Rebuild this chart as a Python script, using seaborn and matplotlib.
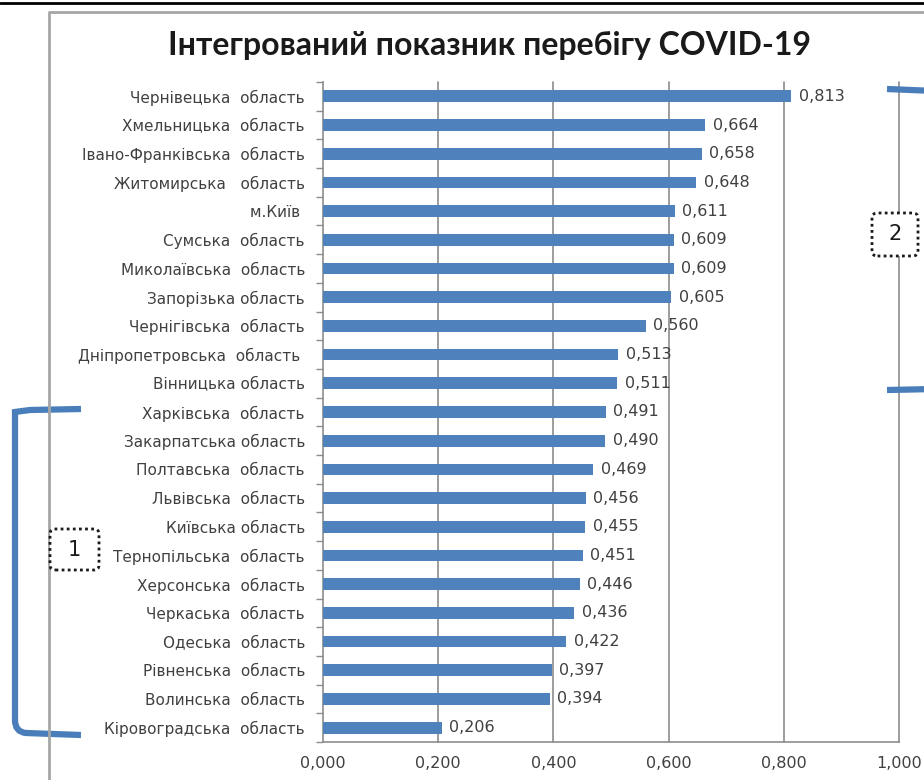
import matplotlib
matplotlib.use("Agg")
import matplotlib.pyplot as plt
import seaborn as sns
import pandas as pd
from matplotlib.path import Path
from matplotlib.patches import PathPatch, FancyBboxPatch
from matplotlib.lines import Line2D
from matplotlib.ticker import FuncFormatter, FixedLocator

# data (top to bottom as in the chart)
regions = [
    "Чернівецька  область", "Хмельницька  область", "Івано-Франківська  область",
    "Житомирська   область", "м.Київ ", "Сумська  область", "Миколаївська  область",
    "Запорізька область", "Чернігівська  область", "Дніпропетровська  область ",
    "Вінницька область", "Харківська  область", "Закарпатська область",
    "Полтавська  область", "Львівська  область", "Київська область",
    "Тернопільська  область", "Херсонська  область", "Черкаська  область",
    "Одеська  область", "Рівненська  область", "Волинська  область",
    "Кіровоградська  область",
]
index_values = [0.813, 0.664, 0.658, 0.648, 0.611, 0.609, 0.609, 0.605, 0.560,
                0.513, 0.511, 0.491, 0.490, 0.469, 0.456, 0.455, 0.451, 0.446,
                0.436, 0.422, 0.397, 0.394, 0.206]
x_ticks = [0.0, 0.2, 0.4, 0.6, 0.8, 1.0]
title = "Інтегрований показник перебігу COVID-19"
group_labels = ["1", "2"]

df = pd.DataFrame({"region": regions, "value": index_values})

bar_color = "#4F81BD"
grid_color = "#8C8C8C"
text_color = "#404040"

sns.set_theme(style="white")
plt.rcParams["font.family"] = ["DejaVu Sans"]

W, H = 924, 780
fig = plt.figure(figsize=(W / 100, H / 100), dpi=100)
ax = fig.add_axes([323 / W, 1 - 742 / H, (899 - 323) / W, (742 - 82) / H])

sns.barplot(data=df, y="region", x="value", color=bar_color, width=0.41,
            saturation=1, linewidth=0, ax=ax, zorder=3)

ax.set_xlim(0, 1)
ax.set_ylim(len(regions) - 0.5, -0.5)
ax.set_xlabel("")
ax.set_ylabel("")

# x axis like excel: comma decimals, gridlines
ax.xaxis.set_major_locator(FixedLocator(x_ticks))
ax.xaxis.set_major_formatter(FuncFormatter(lambda v, p: f"{v:.3f}".replace(".", ",")))
ax.tick_params(axis="x", direction="out", length=5, width=1, color=grid_color,
               labelsize=11.5, labelcolor=text_color, pad=5)
for v in x_ticks[1:]:
    ax.axvline(v, color=grid_color, lw=1.2, zorder=1, clip_on=False)

# y axis: ticks between categories
ax.tick_params(axis="y", which="major", length=0, labelsize=11,
               labelcolor=text_color, pad=13)
ax.yaxis.set_minor_locator(FixedLocator([i - 0.5 for i in range(len(regions) + 1)]))
ax.tick_params(axis="y", which="minor", direction="out", length=5, width=1,
               color=grid_color, left=True)

sns.despine(ax=ax, top=True, right=True)
for s in ["left", "bottom"]:
    ax.spines[s].set_color(grid_color)
    ax.spines[s].set_linewidth(1.2)

# value labels
for i, v in enumerate(index_values):
    ax.text(v + 0.013, i, f"{v:.3f}".replace(".", ","), va="center", ha="left",
            fontsize=11.5, color=text_color)

# title
fig.text(490 / W, 1 - 45 / H, title, ha="center", va="center",
         fontsize=23, fontweight="bold", family=["Lato", "DejaVu Sans"], color="#1a1a1a")

# page decorations: black line at top, grey chart frame
def px(x, y):
    return (x / W, 1 - y / H)

fig.add_artist(Line2D([0, 1], [1 - 3 / H, 1 - 3 / H], color="black", lw=2,
                      transform=fig.transFigure))
fig.add_artist(Line2D([49 / W, 49 / W, 1.0], [0, 1 - 12 / H, 1 - 12 / H],
                      color="#A6A6A6", lw=2, transform=fig.transFigure))

# left bracket (group 1)
verts = [px(81, 409), px(30, 410), px(22, 411), px(15, 412), px(15, 425),
         px(15, 720), px(15, 732), px(26, 733), px(81, 735)]
codes = [Path.MOVETO, Path.LINETO, Path.CURVE3, Path.CURVE3, Path.LINETO,
         Path.LINETO, Path.CURVE3, Path.CURVE3, Path.LINETO]
fig.add_artist(PathPatch(Path(verts, codes), fill=False, edgecolor="#4A7EBB",
                         lw=4.5, transform=fig.transFigure, capstyle="butt"))

# right bracket (group 2), mostly outside the picture
verts = [px(887, 89), px(935, 91), px(945, 95), px(945, 385), px(935, 389), px(887, 390)]
codes = [Path.MOVETO, Path.LINETO, Path.LINETO, Path.LINETO, Path.LINETO, Path.LINETO]
fig.add_artist(PathPatch(Path(verts, codes), fill=False, edgecolor="#4A7EBB",
                         lw=4.5, transform=fig.transFigure, capstyle="butt", zorder=5))

# dotted boxes with group numbers
for (x0, y0, x1, y1), lab in zip([(50, 529, 99, 570), (872, 213, 918, 256)], group_labels):
    box = FancyBboxPatch(px(x0, y1), (x1 - x0) / W, (y1 - y0) / H,
                         boxstyle="round,pad=0,rounding_size=0.006",
                         transform=fig.transFigure, facecolor="white",
                         edgecolor="#1a1a1a", lw=2, linestyle=(0, (1, 1.2)), zorder=6)
    fig.add_artist(box)
    fig.text((x0 + x1) / 2 / W, 1 - (y0 + y1) / 2 / H, lab, ha="center", va="center",
             fontsize=15, color="#1a1a1a", zorder=7)

fig.savefig("out.png", dpi=100, facecolor="white")
